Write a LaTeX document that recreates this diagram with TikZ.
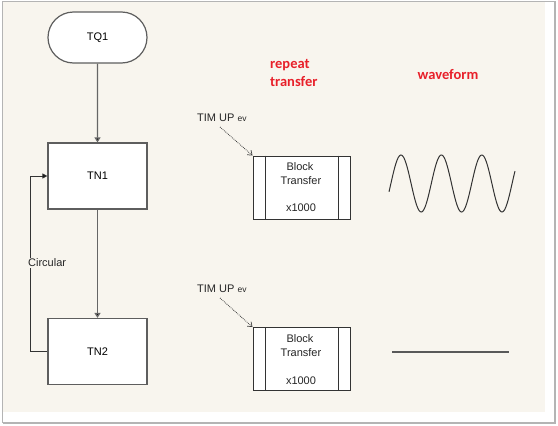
\documentclass[tikz,border=0pt]{standalone}
\usepackage{fontspec}
\setmainfont{Liberation Sans}
\newfontfamily\calfont{Carlito}
\usetikzlibrary{arrows.meta,shapes.misc}
\definecolor{cream}{HTML}{F8F5EE}
\definecolor{frame}{HTML}{B4B4B4}
\definecolor{edge}{HTML}{5E5E5E}
\definecolor{conn}{HTML}{666666}
\definecolor{redlab}{HTML}{E8202A}
\tikzset{
  txt/.style={font=\fontsize{11}{13}\selectfont, inner sep=0pt, text=black!85},
  procbox/.style={draw=edge, fill=white, line width=1.2pt, minimum width=99pt, minimum height=66pt, inner sep=0pt, font=\fontsize{11}{13}\selectfont},
  startbox/.style={draw=edge, fill=white, line width=1.2pt, rounded rectangle, minimum width=99pt, minimum height=51pt, inner sep=0pt, font=\fontsize{11}{13}\selectfont},
  blockbox/.style={draw=black!80, fill=white, line width=1pt, minimum width=97pt, minimum height=63pt, inner sep=0pt},
  flowarrow/.style={draw=conn, line width=1.4pt, -{Triangle[length=5pt,width=6pt,fill=black]}},
  looparrow/.style={draw=black!80, line width=1pt, -{Triangle[length=5pt,width=5pt,fill=black]}},
  evarrow/.style={draw=black!75, line width=0.8pt, densely dotted, -{Straight Barb[length=4pt,width=6pt,line width=0.7pt]}},
  redtxt/.style={font=\calfont\bfseries\fontsize{14.5}{17}\selectfont, text=redlab, inner sep=0pt},
  wave/.style={draw=black!80, line width=1pt}
}
\begin{document}
\begin{tikzpicture}[x=1pt,y=-1pt]
\useasboundingbox (0,0) rectangle (558,426);
\fill[white] (0,0) rectangle (558,426);
\fill[cream] (3,1.5) rectangle (545,412);
\draw[frame, line width=1pt] (2.5,1) -- (555,1);
\draw[frame, line width=1pt] (2.5,1) -- (2.5,423);
\draw[frame, line width=1.6pt] (2.5,423) -- (555,423) -- (555,1);

% left flow
\node[startbox] (tq1) at (97.5,37.5) {TQ1};
\node[procbox] (tn1) at (97.5,176) {TN1};
\node[procbox] (tn2) at (97.5,351.5) {TN2};
\draw[flowarrow] (tq1) -- (tn1);
\draw[flowarrow] (tn1) -- (tn2);
\coordinate (lp) at (30,351.5);
\draw[looparrow] (tn2.west) -- (lp) |- (tn1.west);
\node[txt, fill=cream, anchor=west, inner sep=1pt] (circ) at (27,263) {Circular};

% labels
\node[redtxt, anchor=west] (rep1) at (270,65) {repeat};
\node[redtxt, anchor=west] (rep2) at (270,82) {transfer};
\node[redtxt] (wf) at (448,75) {waveform};

% block 1
\node[blockbox] (b1) at (301.5,187.5) {};
\draw[black!80, line width=1pt] ([xshift=13pt]b1.north west) -- ([xshift=13pt]b1.south west);
\draw[black!80, line width=1pt] ([xshift=-12pt]b1.north east) -- ([xshift=-12pt]b1.south east);
\node[txt] (b1a) at (300,167) {Block};
\node[txt] (b1b) at (301,181) {Transfer};
\node[txt] (b1c) at (301,208) {x1000};
\node[txt, anchor=west] (ev1) at (197,118) {TIM UP {\fontsize{8.5}{9}\selectfont ev}};
\coordinate (e1) at (220,127);
\draw[evarrow] (e1) -- (b1.north west);

% block 2
\node[blockbox] (b2) at (301.5,359) {};
\draw[black!80, line width=1pt] ([xshift=13pt]b2.north west) -- ([xshift=13pt]b2.south west);
\draw[black!80, line width=1pt] ([xshift=-12pt]b2.north east) -- ([xshift=-12pt]b2.south east);
\node[txt] (b2a) at (300,339) {Block};
\node[txt] (b2b) at (301,353) {Transfer};
\node[txt] (b2c) at (301,381) {x1000};
\node[txt, anchor=west] (ev2) at (197,289) {TIM UP {\fontsize{8.5}{9}\selectfont ev}};
\coordinate (e2) at (220,298);
\draw[evarrow] (e2) -- (b2.north west);

% waveforms
\draw[wave] plot[domain=0:126, samples=150, smooth] ({389+\x},{183.5-28.5*sin(8.911*\x-16.93)});
\draw[draw=black!65, line width=1.4pt] (392,352) -- (509,352);
\end{tikzpicture}
\end{document}
